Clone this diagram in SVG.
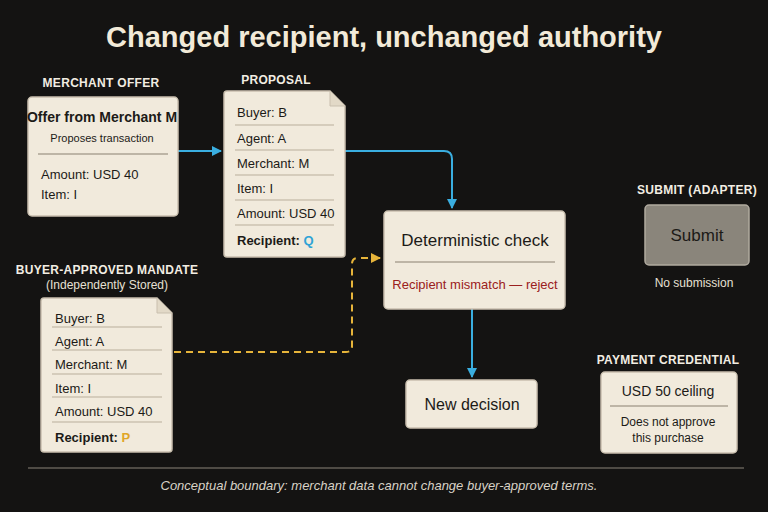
<svg xmlns="http://www.w3.org/2000/svg" width="768" height="512" viewBox="0 0 768 512">
<style>
text{font-family:"Liberation Sans",Arial,sans-serif;}
.card{fill:#f1eadc;stroke:#c9bfae;stroke-width:1.5;}
.lbl{fill:#f2ede2;font-size:12px;font-weight:bold;text-anchor:middle;letter-spacing:0.3px;}
.t{fill:#1c1a17;font-size:13px;}
.sep{stroke:#b9ae9b;stroke-width:1;}
.blue{stroke:#3aaee0;stroke-width:2;fill:none;}
.dash{stroke:#e6b43a;stroke-width:2;fill:none;stroke-dasharray:7 5;}
</style>
<defs>
<marker id="ab" viewBox="0 0 10 10" refX="9" refY="5" markerWidth="5" markerHeight="5" orient="auto"><path d="M0,0 L10,5 L0,10 z" fill="#3aaee0"/></marker>
<marker id="ay" viewBox="0 0 10 10" refX="9" refY="5" markerWidth="5" markerHeight="5" orient="auto"><path d="M0,0 L10,5 L0,10 z" fill="#e6b43a"/></marker>
</defs>
<rect width="768" height="512" fill="#141312"/>
<text x="384" y="47" text-anchor="middle" font-size="29" font-weight="bold" fill="#f2ead8">Changed recipient, unchanged authority</text>

<g id="connectors">
<path class="blue" d="M178,151 L221,151" marker-end="url(#ab)"/>
<path class="blue" d="M345,151 L444,151 Q452,151 452,159 L452,208" marker-end="url(#ab)"/>
<path class="blue" d="M472,309 L472,377" marker-end="url(#ab)"/>
<path class="dash" d="M174,352 L346,352 Q352,352 352,346 L352,264 Q352,258 358,258 L380,258" marker-end="url(#ay)"/>
</g>

<g id="merchant-offer">
<text class="lbl" x="101" y="87">MERCHANT OFFER</text>
<rect class="card" x="28" y="97" width="150" height="119" rx="4"/>
<text x="102" y="122" text-anchor="middle" font-size="14" font-weight="bold" fill="#1c1a17">Offer from Merchant M</text>
<text x="102" y="142" text-anchor="middle" font-size="11" fill="#1c1a17">Proposes transaction</text>
<line x1="38" y1="154" x2="168" y2="154" stroke="#8a8070" stroke-width="1.2"/>
<text class="t" x="41" y="179">Amount: USD 40</text>
<text class="t" x="41" y="199">Item:  I</text>
</g>

<g id="proposal">
<text class="lbl" x="276" y="84">PROPOSAL</text>
<path class="card" d="M227,91 L330,91 L345,106 L345,254 Q345,257 342,257 L227,257 Q224,257 224,254 L224,94 Q224,91 227,91 Z"/>
<path d="M330,91 L330,106 L345,106" fill="#e2d9c7" stroke="#c9bfae" stroke-width="1"/>
<g class="sep"><line x1="235" y1="125" x2="334" y2="125"/><line x1="235" y1="150" x2="334" y2="150"/><line x1="235" y1="175" x2="334" y2="175"/><line x1="235" y1="200" x2="334" y2="200"/><line x1="235" y1="225" x2="334" y2="225"/></g>
<text class="t" x="237" y="117">Buyer: B</text>
<text class="t" x="237" y="143">Agent: A</text>
<text class="t" x="237" y="168">Merchant: M</text>
<text class="t" x="237" y="193">Item:  I</text>
<text class="t" x="237" y="218">Amount: USD 40</text>
<text class="t" x="237" y="245" font-weight="bold">Recipient: <tspan fill="#2fa3d6">Q</tspan></text>
</g>

<g id="mandate">
<text class="lbl" x="107" y="274">BUYER-APPROVED MANDATE</text>
<text x="107" y="289" text-anchor="middle" font-size="12" fill="#e6e0d4">(Independently Stored)</text>
<path class="card" d="M44,298 L157,298 L172,313 L172,449 Q172,452 169,452 L44,452 Q41,452 41,449 L41,301 Q41,298 44,298 Z"/>
<path d="M157,298 L157,313 L172,313" fill="#e2d9c7" stroke="#c9bfae" stroke-width="1"/>
<g class="sep"><line x1="52" y1="327" x2="162" y2="327"/><line x1="52" y1="350" x2="162" y2="350"/><line x1="52" y1="374" x2="162" y2="374"/><line x1="52" y1="397" x2="162" y2="397"/><line x1="52" y1="422" x2="162" y2="422"/></g>
<text class="t" x="55" y="323">Buyer: B</text>
<text class="t" x="55" y="346">Agent: A</text>
<text class="t" x="55" y="369">Merchant: M</text>
<text class="t" x="55" y="393">Item:  I</text>
<text class="t" x="55" y="416">Amount: USD 40</text>
<text class="t" x="55" y="442" font-weight="bold">Recipient: <tspan fill="#e0a526">P</tspan></text>
</g>

<g id="check">
<rect class="card" x="384" y="211" width="181" height="98" rx="4"/>
<text x="475" y="246" text-anchor="middle" font-size="17" fill="#1c1a17">Deterministic check</text>
<line x1="395" y1="262" x2="555" y2="262" stroke="#8a8070" stroke-width="1"/>
<text x="475" y="289" text-anchor="middle" font-size="13" fill="#9a2020">Recipient mismatch — reject</text>
</g>

<g id="new-decision">
<rect class="card" x="406" y="380" width="131" height="48" rx="4"/>
<text x="472" y="410" text-anchor="middle" font-size="16" fill="#1c1a17">New decision</text>
</g>

<g id="submit">
<text class="lbl" x="697" y="194">SUBMIT (ADAPTER)</text>
<rect x="645" y="205" width="104" height="60" rx="4" fill="#8a857b" stroke="#b0aa9f" stroke-width="1.5"/>
<text x="697" y="241" text-anchor="middle" font-size="17" fill="#1c1a17">Submit</text>
<text x="694" y="287" text-anchor="middle" font-size="12" fill="#e6e0d4">No submission</text>
</g>

<g id="payment-credential">
<text class="lbl" x="668" y="364">PAYMENT CREDENTIAL</text>
<rect class="card" x="601" y="372" width="136" height="81" rx="4"/>
<text x="668" y="396" text-anchor="middle" font-size="14" fill="#1c1a17">USD 50 ceiling</text>
<line x1="610" y1="406" x2="728" y2="406" stroke="#8a8070" stroke-width="1"/>
<text x="668" y="426" text-anchor="middle" font-size="12" fill="#1c1a17">Does not approve</text>
<text x="668" y="442" text-anchor="middle" font-size="12" fill="#1c1a17">this purchase</text>
</g>

<line x1="28" y1="468" x2="744" y2="468" stroke="#8a8478" stroke-width="1"/>
<text x="379" y="490" text-anchor="middle" font-size="13" font-style="italic" fill="#d8d2c6">Conceptual boundary: merchant data cannot change buyer-approved terms.</text>
</svg>
